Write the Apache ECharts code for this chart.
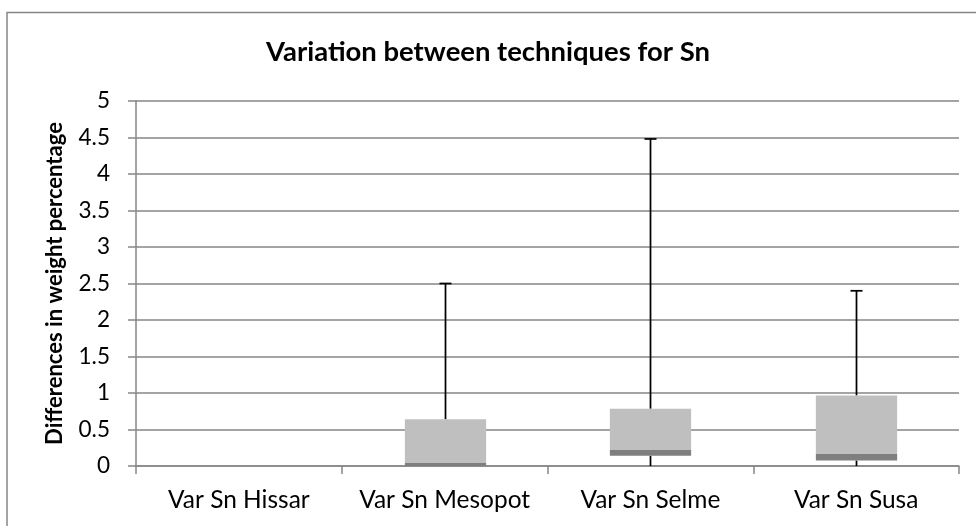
<!DOCTYPE html>
<html>
<head>
<meta charset="utf-8">
<script src="https://cdn.jsdelivr.net/npm/echarts@6/dist/echarts.min.js"></script>
<style>
html,body{margin:0;padding:0;background:#fff;}
#chart{width:976px;height:526px;}
</style>
</head>
<body>
<div id="chart"></div>
<script>
// ---- data ----
const categories = ['Var Sn Hissar', 'Var Sn Mesopot', 'Var Sn Selme', 'Var Sn Susa'];
const minValues    = [0, 0,    0,     0];
const q1Values     = [0, 0,    0.14,  0.075];
const medianValues = [0, 0.04, 0.22,  0.165];
const q3Values     = [0, 0.64, 0.785, 0.965];
const maxValues    = [0, 2.5,  4.48,  2.4];
const yTicks = [0, 0.5, 1, 1.5, 2, 2.5, 3, 3.5, 4, 4.5, 5];

const titleText = 'Variation between techniques for Sn';
const yAxisTitle = 'Differences in weight percentage';

const FONT = 'Lato';

// font sizes fitted so that text widths match the reference picture
const measureCtx = document.createElement('canvas').getContext('2d');
function fitSize(text, weight, targetWidth) {
  measureCtx.font = weight + ' 100px ' + FONT;
  return 100 * targetWidth / measureCtx.measureText(text).width;
}
const titleSize = fitSize(titleText, 'bold', 444);
const catSize = fitSize('Var Sn Mesopot', 'normal', 171);
const tickSize = fitSize('0.5', 'normal', 31.5);
const yNameSize = fitSize(yAxisTitle, 'bold', 323);

const boxData = categories.map((c, i) => [i, minValues[i], q1Values[i], medianValues[i], q3Values[i], maxValues[i]]);

const chart = echarts.init(document.getElementById('chart'), null, {renderer: 'canvas'});

function renderBox(params, api) {
  const idx = api.value(0);
  const vMin = api.value(1), vQ1 = api.value(2), vMed = api.value(3), vQ3 = api.value(4), vMax = api.value(5);
  if (vMax === 0 && vQ3 === 0) return null;
  const bandW = api.size([1, 0])[0];
  const boxW = bandW * 0.395;
  const capW = 12;
  const pMin = api.coord([idx, vMin]);
  const pQ1 = api.coord([idx, vQ1]);
  const pMed = api.coord([idx, vMed]);
  const pQ3 = api.coord([idx, vQ3]);
  const pMax = api.coord([idx, vMax]);
  const cx = Math.round(pQ3[0]) + 0.5;
  const lineStyle = {stroke: '#000000', lineWidth: 1.75, fill: null};
  const children = [];
  // upper whisker
  children.push({type: 'line', shape: {x1: cx, y1: pQ3[1], x2: cx, y2: pMax[1]}, style: lineStyle});
  children.push({type: 'line', shape: {x1: cx - capW / 2, y1: pMax[1], x2: cx + capW / 2, y2: pMax[1]}, style: lineStyle});
  // lower whisker
  if (vQ1 > vMin) {
    children.push({type: 'line', shape: {x1: cx, y1: pQ1[1], x2: cx, y2: pMin[1]}, style: lineStyle});
  }
  // lower box part (Q1 -> median)
  children.push({type: 'rect', shape: {x: cx - boxW / 2, y: pMed[1], width: boxW, height: pQ1[1] - pMed[1]},
    style: {fill: '#7f7f7f', stroke: null}});
  // upper box part (median -> Q3)
  children.push({type: 'rect', shape: {x: cx - boxW / 2, y: pQ3[1], width: boxW, height: pMed[1] - pQ3[1]},
    style: {fill: '#bfbfbf', stroke: null}});
  return {type: 'group', children: children};
}

const option = {
  backgroundColor: '#ffffff',
  animation: false,
  title: {
    text: titleText,
    left: 'center',
    top: 52.5 - titleSize / 2,
    padding: 0,
    textStyle: {fontFamily: FONT, fontWeight: 'bold', fontSize: titleSize, lineHeight: titleSize, color: '#000000'}
  },
  graphic: [{
    type: 'rect',
    shape: {x: 7, y: 12.5, width: 1000, height: 600},
    style: {fill: null, stroke: '#868686', lineWidth: 1.5},
    silent: true,
    z: 100
  }],
  grid: {left: 136, right: 17, top: 101, bottom: 60, containLabel: false},
  xAxis: {
    type: 'category',
    data: categories,
    boundaryGap: true,
    axisLine: {show: true, lineStyle: {color: '#868686', width: 1.5}},
    axisTick: {show: true, length: 8, interval: 0, alignWithLabel: false, lineStyle: {color: '#868686', width: 1.5}},
    axisLabel: {fontFamily: FONT, fontSize: catSize, lineHeight: catSize, color: '#000000',
      margin: 34.5 - catSize / 2, interval: 0},
    splitLine: {show: false}
  },
  yAxis: {
    type: 'value',
    min: yTicks[0],
    max: yTicks[yTicks.length - 1],
    interval: yTicks[1] - yTicks[0],
    name: yAxisTitle,
    nameLocation: 'middle',
    nameGap: 81.5 - yNameSize / 2,
    nameRotate: 90,
    nameTextStyle: {fontFamily: FONT, fontWeight: 'bold', fontSize: yNameSize, lineHeight: yNameSize, color: '#000000'},
    axisLine: {show: true, lineStyle: {color: '#868686', width: 1.5}},
    axisTick: {show: true, length: 8, inside: false, lineStyle: {color: '#868686', width: 1.5}},
    axisLabel: {fontFamily: FONT, fontSize: tickSize, color: '#000000', margin: 26,
      formatter: v => String(v)},
    splitLine: {show: true, lineStyle: {color: '#868686', width: 1.5}}
  },
  series: [{
    type: 'custom',
    renderItem: renderBox,
    encode: {x: 0, y: [1, 2, 3, 4, 5]},
    data: boxData,
    z: 10
  }]
};
chart.setOption(option);
</script>
</body>
</html>
